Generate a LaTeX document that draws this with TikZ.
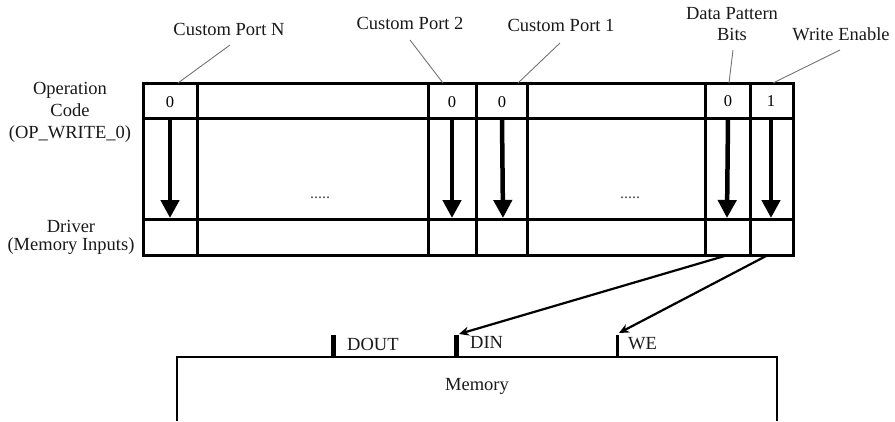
\documentclass[tikz,border=0pt]{standalone}
\usepackage{fontspec}
\setmainfont{Liberation Serif}
\usetikzlibrary{arrows.meta}
\begin{document}
\begin{tikzpicture}[x=1pt,y=-1pt,
  lbl/.style={font=\fontsize{18.5}{22}\selectfont, inner sep=0pt, align=center, text=black!90},
  bit/.style={font=\fontsize{16.5}{18}\selectfont, inner sep=0pt},
  dots/.style={font=\fontsize{16}{18}\selectfont, inner sep=0pt, text=black!70},
  gridline/.style={line width=3pt},
  leader/.style={draw=black!55, line width=0.9pt},
  flow/.style={line width=4.5pt, -{Triangle[width=18pt,length=18pt]}},
  wire/.style={line width=2.2pt, -{Stealth[width=9pt,length=10pt]}},
  pin/.style={line width=5pt},
  membox/.style={line width=2.5pt}]
\useasboundingbox (0,0) rectangle (895,421);

% table grid
\draw[gridline] (143,83) rectangle (793,255);
\draw[gridline] (143,118) -- (793,118);
\draw[gridline] (143,219) -- (793,219);
\foreach \x in {197,428,476,527,705,750} \draw[gridline] (\x,83) -- (\x,255);

% bit values
\node[bit] (bN) at (170,102) {0};
\node[bit] (b2) at (452,102) {0};
\node[bit] (b1) at (502,102) {0};
\node[bit] (bD) at (728,101) {0};
\node[bit] (bW) at (771,101) {1};

% driver cells (bottom row)
\coordinate (dN) at (170,218);
\coordinate (d2) at (452,218);
\coordinate (d1) at (503,218);
\coordinate (dD) at (727,218);
\coordinate (dW) at (771,218);
\foreach \c/\d in {bN/dN,b2/d2,b1/d1,bD/dD,bW/dW}
  \draw[flow] (\c |- 0,119) -- (\d);

\node[dots] (e1) at (320,198) {.....};
\node[dots] (e2) at (630,198) {.....};

% side labels
\node[lbl] (opc) at (70,112) {Operation\\Code\\(OP\_WRITE\_0)};
\node[lbl, font=\fontsize{18.5}{18}\selectfont] (drv) at (71,237) {Driver\\(Memory Inputs)};

% top labels
\node[lbl] (cpN) at (229,29) {Custom Port N};
\node[lbl] (cp2) at (410,23) {Custom Port 2};
\node[lbl] (cp1) at (561,25) {Custom Port 1};
\node[lbl, font=\fontsize{18.5}{21}\selectfont] (dpb) at (732,24) {Data Pattern\\Bits};
\node[lbl] (wen) at (841,34) {Write Enable};

\coordinate (tN) at (178,83);
\coordinate (t2) at (443,83);
\coordinate (t1) at (518,83);
\coordinate (tD) at (729,83);
\coordinate (tW) at (773,83);
\draw[leader] (230,45) -- (tN);
\draw[leader] (410,40) -- (t2);
\draw[leader] (560,43) -- (t1);
\draw[leader] (733,50) -- (tD);
\draw[leader] (840,50) -- (tW);

% memory
\draw[membox] (177,421) -- (177,357) -- (777,357) -- (777,421);
\node[lbl] (mem) at (477,386) {Memory};

\coordinate (pDOUT) at (333,335);
\coordinate (pDIN) at (456,335);
\coordinate (pWE) at (617,335);
\draw[pin] (pDOUT) -- (333,358);
\draw[pin] (pDIN) -- (456,358);
\draw[line width=3pt] (pWE) -- (617,358);
\node[lbl, anchor=west] (lDOUT) at (347,344) {DOUT};
\node[lbl, anchor=west] (lDIN) at (470,342) {DIN};
\node[lbl, anchor=west] (lWE) at (628,344) {WE};

\coordinate (oD) at (728,255);
\coordinate (oW) at (768,255);
\draw[wire] (oD) -- (459,334);
\draw[wire] (oW) -- (619,333);
\end{tikzpicture}
\end{document}
